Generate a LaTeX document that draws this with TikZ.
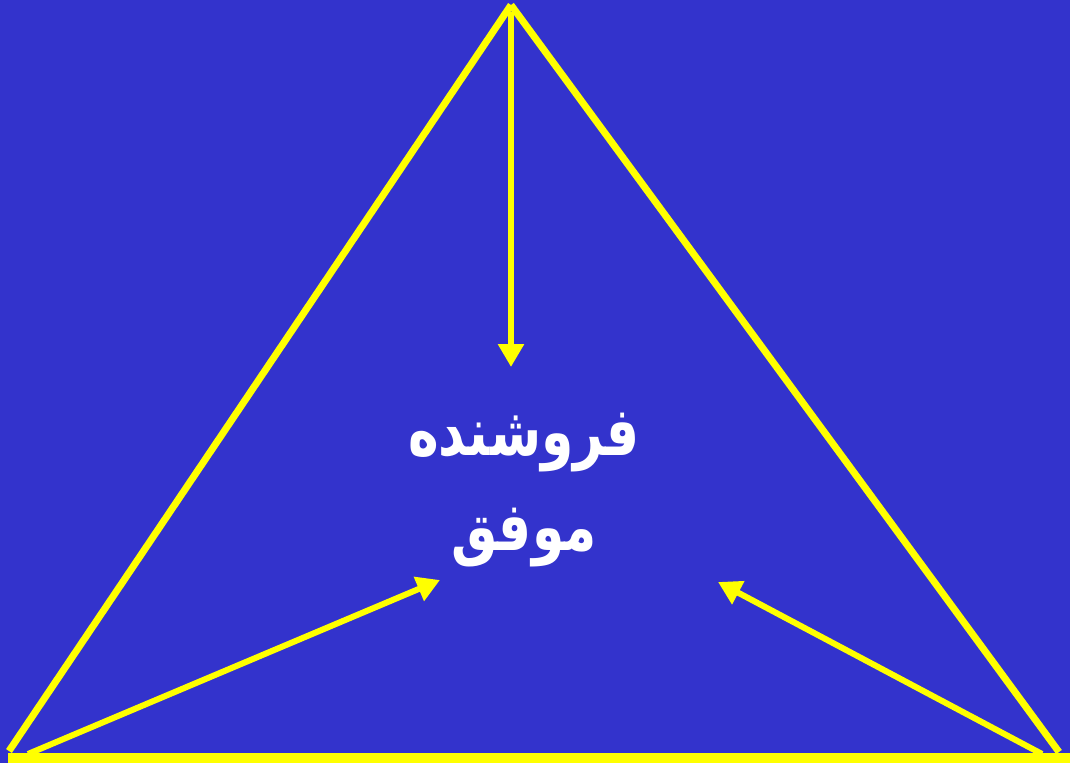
\documentclass[tikz,border=0pt]{standalone}
\usepackage{fontspec}
\usepackage{xcolor}
\usetikzlibrary{arrows.meta, positioning}
\newfontfamily\arabicfont[Script=Arabic]{DejaVu Sans}
\TeXXeTstate=1
\definecolor{slideblue}{HTML}{3333CC}
\definecolor{slideyellow}{HTML}{FFFF00}

\begin{document}
\begin{tikzpicture}[
  x=1pt, y=-1pt,
  side/.style={draw=slideyellow, line width=7pt},
  base/.style={draw=slideyellow, line width=10pt},
  line/.style={draw=slideyellow, line width=6pt, -{Triangle[width=25pt, length=23pt]}},
  label/.style={text=white, align=center, font=\arabicfont\bfseries\fontsize{52}{95}\selectfont}
]
  \useasboundingbox [fill=slideblue] (0,0) rectangle (1070,763);

  % corners of the triangle
  \coordinate (apex) at (511,5);
  \coordinate (left) at (9,751);
  \coordinate (right) at (1059,752);
  \coordinate (baseleft) at (8,758);
  \coordinate (baseright) at (1070,758);

  % the seller in the middle
  \node [label] (seller) at (524,490) {\scalebox{1}[1.3]{\beginR فروشنده\endR}\\\scalebox{1}[1.3]{\beginR موفق\endR}};

  % arrow ends
  \coordinate (topstart) at (511,12);
  \coordinate (leftstart) at (28,754);
  \coordinate (rightstart) at (1042,754);
  \coordinate (toptip) at (511,367);
  \coordinate (lefttip) at (440,580);
  \coordinate (righttip) at (718,582);

  \draw [side] (apex) -- (left);
  \draw [side] (apex) -- (right);
  \draw [base] (baseleft) -- (baseright);

  \draw [line] (topstart) -- (toptip);
  \draw [line] (leftstart) -- (lefttip);
  \draw [line] (rightstart) -- (righttip);
\end{tikzpicture}
\end{document}
